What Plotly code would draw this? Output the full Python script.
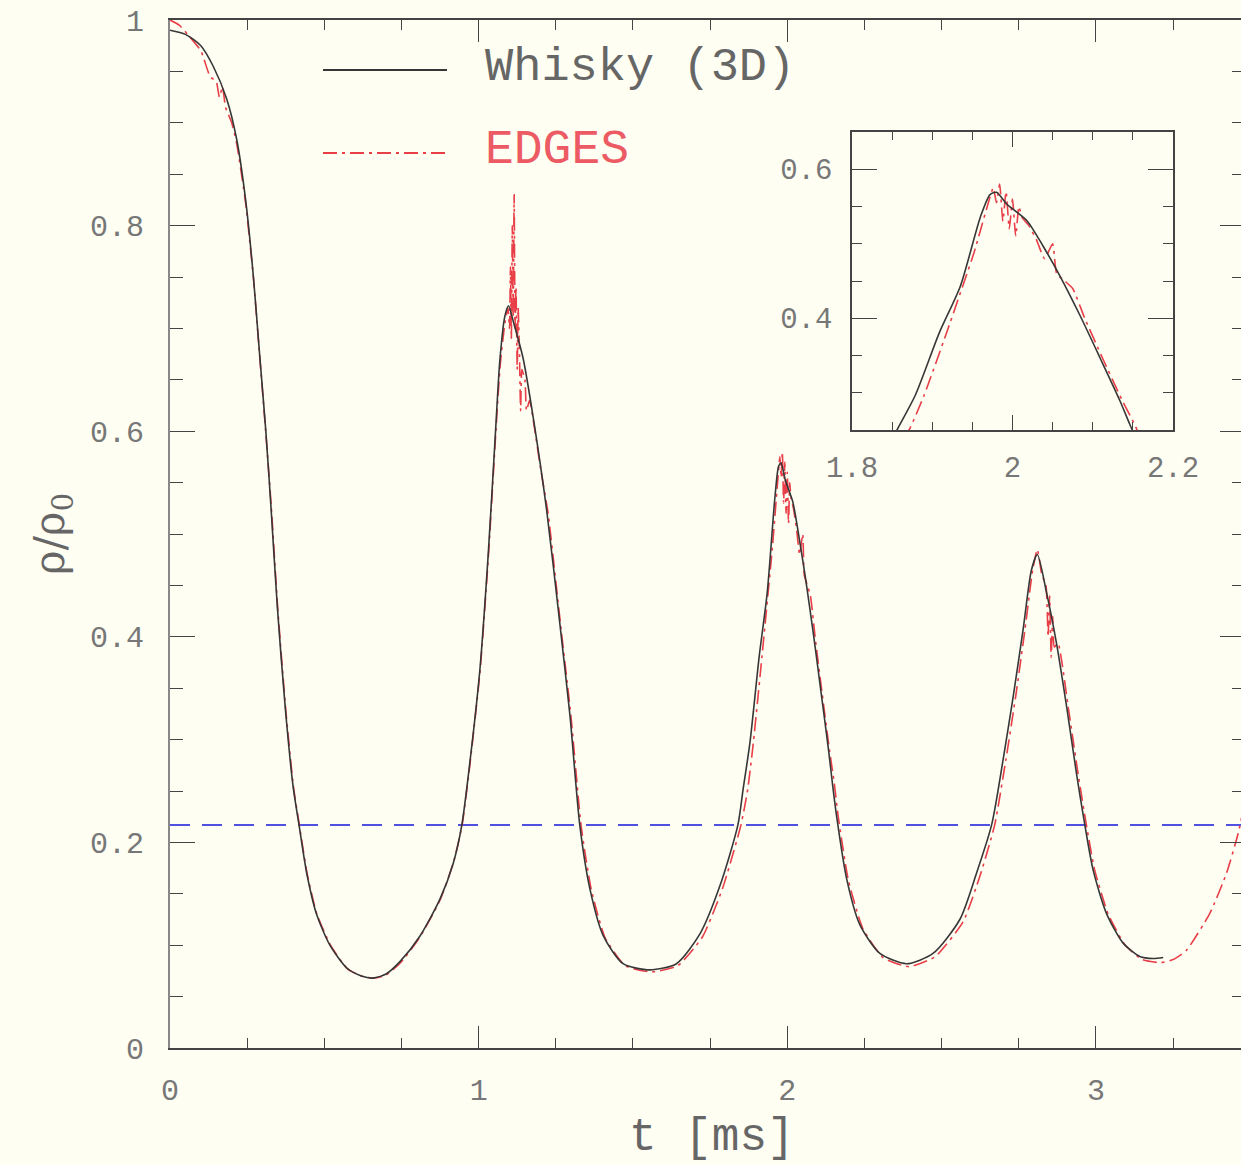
import plotly.graph_objects as go

# ---------------- data ----------------
whisky_t = [0, 0.05, 0.1, 0.14, 0.184, 0.216, 0.245, 0.27, 0.29, 0.31, 0.327, 0.348, 0.374,
            0.399, 0.418, 0.443, 0.475, 0.518, 0.572, 0.62, 0.658, 0.70, 0.745, 0.81, 0.875,
            0.918, 0.945, 0.972, 1.004, 1.031, 1.053, 1.069, 1.085, 1.097, 1.112, 1.144, 1.177,
            1.220, 1.263, 1.296, 1.328, 1.361, 1.404, 1.468, 1.555, 1.641, 1.717, 1.782, 1.840,
            1.857, 1.879, 1.909, 1.935, 1.960, 1.972, 1.980, 1.993, 2.018, 2.038, 2.059, 2.084,
            2.109, 2.134, 2.146, 2.160, 2.192, 2.235, 2.300, 2.386, 2.472, 2.559, 2.613, 2.662,
            2.699, 2.732, 2.764, 2.791, 2.810, 2.840, 2.872, 2.905, 2.937, 2.964, 2.991, 3.034,
            3.088, 3.142, 3.185, 3.218]
whisky_rho = [0.99, 0.986, 0.975, 0.955, 0.923, 0.884, 0.825, 0.751, 0.676, 0.602, 0.527, 0.428, 0.329,
              0.254, 0.217, 0.170, 0.130, 0.100, 0.078, 0.070, 0.068, 0.072, 0.084, 0.109, 0.145,
              0.180, 0.216, 0.279, 0.368, 0.480, 0.591, 0.670, 0.712, 0.722, 0.707, 0.671, 0.613,
              0.524, 0.413, 0.323, 0.216, 0.154, 0.109, 0.082, 0.076, 0.082, 0.111, 0.158, 0.217,
              0.252, 0.297, 0.381, 0.443, 0.536, 0.566, 0.569, 0.553, 0.531, 0.497, 0.457, 0.404,
              0.347, 0.289, 0.258, 0.225, 0.165, 0.120, 0.092, 0.082, 0.092, 0.125, 0.170, 0.217,
              0.280, 0.342, 0.407, 0.465, 0.480, 0.443, 0.394, 0.332, 0.267, 0.217, 0.173, 0.131,
              0.102, 0.089, 0.087, 0.088]

edges_t = [0, 0.03, 0.06, 0.1, 0.13, 0.15, 0.16, 0.17, 0.18, 0.2, 0.216, 0.245, 0.27, 0.29, 0.31,
           0.328, 0.349, 0.375, 0.400, 0.419, 0.444, 0.476, 0.52, 0.575, 0.62, 0.66, 0.70, 0.75,
           0.81, 0.875, 0.918, 0.946, 0.973, 1.005, 1.032, 1.054, 1.07, 1.085, 1.095, 1.10, 1.103,
           1.106, 1.109, 1.112, 1.115, 1.118, 1.121, 1.125, 1.128, 1.132, 1.136, 1.14, 1.15, 1.155,
           1.165, 1.18, 1.2, 1.225, 1.265, 1.299, 1.332, 1.365, 1.41, 1.475, 1.56, 1.645, 1.725,
           1.79, 1.85, 1.872, 1.89, 1.918, 1.952, 1.968, 1.976, 1.98, 1.984, 1.988, 1.992, 1.996,
           2.0, 2.004, 2.008, 2.012, 2.02, 2.03, 2.04, 2.05, 2.055, 2.065, 2.075, 2.09, 2.112,
           2.137, 2.152, 2.165, 2.198, 2.245, 2.31, 2.395, 2.48, 2.57, 2.625, 2.672, 2.708, 2.74,
           2.77, 2.795, 2.81, 2.825, 2.838, 2.845, 2.85, 2.855, 2.86, 2.865, 2.877, 2.91, 2.942,
           2.969, 2.996, 3.04, 3.095, 3.15, 3.21, 3.25, 3.293, 3.369, 3.423, 3.461, 3.49]
edges_rho = [1.0, 0.995, 0.985, 0.97, 0.945, 0.94, 0.925, 0.935, 0.915, 0.90, 0.88, 0.822, 0.75, 0.675, 0.60,
             0.527, 0.428, 0.329, 0.254, 0.217, 0.170, 0.130, 0.100, 0.077, 0.070, 0.068, 0.071, 0.084,
             0.108, 0.144, 0.180, 0.216, 0.279, 0.368, 0.480, 0.591, 0.665, 0.705, 0.72, 0.70, 0.76,
             0.69, 0.80, 0.71, 0.83, 0.70, 0.74, 0.66, 0.72, 0.68, 0.62, 0.66, 0.65, 0.62,
             0.63, 0.605, 0.565, 0.52, 0.413, 0.323, 0.216, 0.154, 0.107, 0.080, 0.074, 0.080, 0.108,
             0.155, 0.217, 0.252, 0.297, 0.381, 0.488, 0.548, 0.575, 0.555, 0.58, 0.53, 0.57, 0.52,
             0.56, 0.51, 0.55, 0.535, 0.525, 0.505, 0.48, 0.50, 0.46, 0.45, 0.44, 0.40, 0.347,
             0.289, 0.258, 0.225, 0.163, 0.116, 0.088, 0.079, 0.089, 0.123, 0.168, 0.217, 0.280, 0.342,
             0.407, 0.465, 0.485, 0.46, 0.45, 0.40, 0.44, 0.38, 0.42, 0.39, 0.394, 0.332, 0.267,
             0.217, 0.173, 0.13, 0.10, 0.086, 0.083, 0.086, 0.095, 0.131, 0.170, 0.209, 0.25]

threshold_t = [0, 3.5]
threshold_rho = [0.217, 0.217]

series_names = ["Whisky (3D)", "EDGES"]

# ---------------- styling ----------------
BG = "#fefef3"
BLACK = "rgb(55,55,55)"
RED = "rgb(232,62,72)"
BLUE = "rgb(80,80,225)"
TICKC = "#777777"
AXC = "#444444"
FONT = "Liberation Mono, Courier New, monospace"

W, H = 1241, 1165
ML, MR, MT, MB = 170, 0, 20, 117
PW, PH = W - ML - MR, H - MT - MB


def px_x(p):
    return (p - ML) / PW


def px_y(p):
    return (H - MB - p) / PH


fig = go.Figure()

red_dash = "14px,5px,3px,5px"

# main panel
fig.add_trace(go.Scatter(x=threshold_t, y=threshold_rho, mode="lines",
                         line=dict(color=BLUE, width=2, dash="20px,12px"),
                         showlegend=False, hoverinfo="skip"))
fig.add_trace(go.Scatter(x=edges_t, y=edges_rho, mode="lines", name=series_names[1],
                         line=dict(color=RED, width=1.6, dash=red_dash, shape="spline", smoothing=0.5),
                         showlegend=False))
fig.add_trace(go.Scatter(x=whisky_t, y=whisky_rho, mode="lines", name=series_names[0],
                         line=dict(color=BLACK, width=1.6, shape="spline", smoothing=0.7),
                         showlegend=False))

# inset panel
fig.add_trace(go.Scatter(x=edges_t, y=edges_rho, mode="lines", xaxis="x2", yaxis="y2",
                         line=dict(color=RED, width=1.6, dash=red_dash, shape="spline", smoothing=0.5),
                         showlegend=False))
fig.add_trace(go.Scatter(x=whisky_t, y=whisky_rho, mode="lines", xaxis="x2", yaxis="y2",
                         line=dict(color=BLACK, width=1.6, shape="spline", smoothing=0.7),
                         showlegend=False))

# dummy trace for right-side tick axis
fig.add_trace(go.Scatter(x=[None], y=[None], yaxis="y3", showlegend=False, hoverinfo="skip"))

tickfont = dict(family=FONT, size=30, color=TICKC)
inset_tickfont = dict(family=FONT, size=29, color=TICKC)

fig.update_layout(
    width=W, height=H, autosize=False,
    margin=dict(l=ML, r=MR, t=MT, b=MB, pad=0, autoexpand=False),
    paper_bgcolor=BG, plot_bgcolor=BG,
    showlegend=False,
    xaxis=dict(range=[0, 3.47], domain=[0, 1], showgrid=False, zeroline=False, automargin=False,
               showline=True, linecolor=AXC, linewidth=2, mirror="ticks",
               ticks="inside", ticklen=22, tickwidth=1, tickcolor=AXC, dtick=1, tick0=0,
               minor=dict(dtick=0.25, ticklen=10, ticks="inside", tickcolor=AXC, tickwidth=1),
               tickfont=tickfont, ticklabelstandoff=14),
    yaxis=dict(range=[0, 1], domain=[0, 1], showgrid=False, zeroline=False, automargin=False,
               showline=True, linecolor="#888888", linewidth=2,
               ticks="inside", ticklen=25, tickwidth=1, tickcolor=AXC, dtick=0.2, tick0=0,
               minor=dict(dtick=0.05, ticklen=13, ticks="inside", tickcolor=AXC, tickwidth=1),
               tickfont=tickfont, ticklabelstandoff=18),
    yaxis3=dict(range=[0, 1], overlaying="y", side="right", anchor="x", showgrid=False,
                zeroline=False, showline=False, showticklabels=False, automargin=False,
                ticks="inside", ticklen=21, tickwidth=1, tickcolor=AXC, dtick=0.2, tick0=0,
                minor=dict(dtick=0.05, ticklen=9, ticks="inside", tickcolor=AXC, tickwidth=1)),
    xaxis2=dict(range=[1.8, 2.2], domain=[px_x(852), px_x(1173)], anchor="y2", automargin=False,
                showgrid=False, zeroline=False, showline=True, linecolor=AXC, linewidth=1.5,
                mirror="ticks", ticks="inside", ticklen=15, tickwidth=1, tickcolor=AXC,
                dtick=0.2, tick0=1.8,
                minor=dict(dtick=0.05, ticklen=8, ticks="inside", tickcolor=AXC, tickwidth=1),
                tickfont=inset_tickfont, ticklabelstandoff=10),
    yaxis2=dict(range=[0.25, 0.65], domain=[px_y(430), px_y(132)], anchor="x2", automargin=False,
                showgrid=False, zeroline=False, showline=True, linecolor=AXC, linewidth=1.5,
                mirror="ticks", ticks="inside", ticklen=25, tickwidth=1, tickcolor=AXC,
                dtick=0.2, tick0=0,
                minor=dict(dtick=0.05, ticklen=10, ticks="inside", tickcolor=AXC, tickwidth=1),
                tickfont=inset_tickfont, ticklabelstandoff=12),
)

# inset background box
fig.add_shape(type="rect", xref="x2 domain", yref="y2 domain", x0=0, x1=1, y0=0, y1=1,
              fillcolor=BG, line=dict(width=0), layer="below")

# legend (drawn manually to reproduce the long line samples)
fig.add_shape(type="line", xref="paper", yref="paper",
              x0=px_x(323), x1=px_x(447), y0=px_y(70), y1=px_y(70),
              line=dict(color=BLACK, width=2))
fig.add_shape(type="line", xref="paper", yref="paper",
              x0=px_x(323), x1=px_x(447), y0=px_y(153), y1=px_y(153),
              line=dict(color=RED, width=2, dash=red_dash))
fig.add_annotation(xref="paper", yref="paper", x=px_x(483), y=px_y(68),
                   text=series_names[0], showarrow=False, xanchor="left", yanchor="middle",
                   font=dict(family=FONT, size=47, color="#666666"))
fig.add_annotation(xref="paper", yref="paper", x=px_x(483), y=px_y(150),
                   text=series_names[1], showarrow=False, xanchor="left", yanchor="middle",
                   font=dict(family=FONT, size=48, color="rgb(236,90,100)"))

# axis titles
fig.add_annotation(xref="paper", yref="paper", x=px_x(712), y=px_y(1138),
                   text="t [ms]", showarrow=False, xanchor="center", yanchor="middle",
                   font=dict(family=FONT, size=46, color="#666666"))
fig.add_annotation(xref="paper", yref="paper", x=px_x(52), y=px_y(534),
                   text="ρ/ρ<sub>0</sub>", showarrow=False, xanchor="center", yanchor="middle",
                   textangle=-90,
                   font=dict(family="DejaVu Serif, serif", size=42, color="#666666"))

fig.write_html("out.html")
